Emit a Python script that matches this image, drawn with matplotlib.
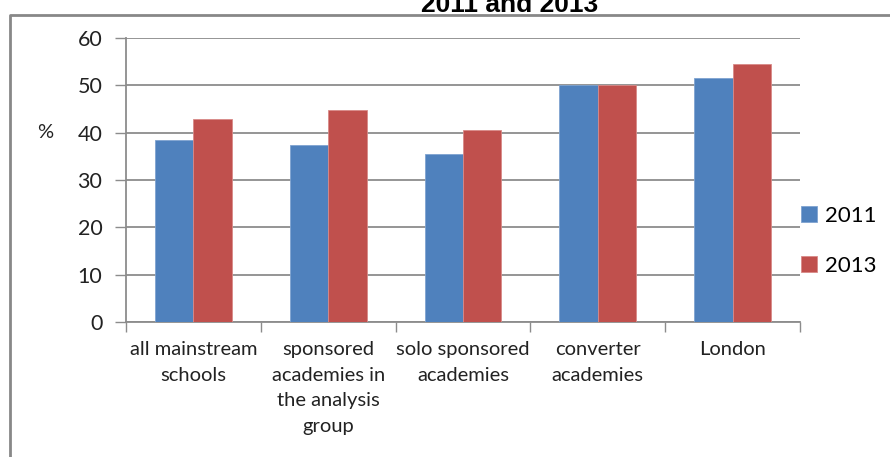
import numpy as np
import matplotlib
matplotlib.use('Agg')
import matplotlib.pyplot as plt
from matplotlib.lines import Line2D

plt.rcParams['font.family'] = ['Lato', 'DejaVu Sans']

categories = ['all mainstream\nschools', 'sponsored\nacademies in\nthe analysis\ngroup',
              'solo sponsored\nacademies', 'converter\nacademies', 'London']
years = ['2011', '2013']
vals_2011 = [38.5, 37.4, 35.5, 50.0, 51.5]
vals_2013 = [42.8, 44.7, 40.5, 50.0, 54.5]
yticks = [0, 10, 20, 30, 40, 50, 60]

blue = '#4F81BD'
red = '#C0504D'
grid_c = '#8C8C8C'

fig = plt.figure(figsize=(8.9, 4.57), dpi=100)
ax = fig.add_axes([0.1416, 0.2954, 0.7573, 0.6214])

x = np.arange(len(categories))
w = 0.285
ax.bar(x - w / 2, vals_2011, w, color=blue, edgecolor='#7FA3D0', linewidth=0.6, label=years[0], zorder=3)
ax.bar(x + w / 2, vals_2013, w, color=red, edgecolor='#D88A88', linewidth=0.6, label=years[1], zorder=3)

ax.set_xlim(-0.5, len(categories) - 0.5)
ax.set_ylim(0, 60)
ax.set_yticks(yticks)
ax.set_yticklabels([str(t) for t in yticks], fontsize=15.5, color='#222222')
ax.yaxis.grid(True, color=grid_c, linewidth=1.3, zorder=0)
ax.tick_params(axis='y', length=8, width=1, color=grid_c, pad=9)

# category labels between boundary ticks
ax.set_xticks(x)
ax.set_xticklabels(categories, fontsize=14.5, color='#222222', linespacing=1.6, va='top')
ax.tick_params(axis='x', length=0, pad=14)
ax.set_xticks(np.arange(-0.5, len(categories), 1.0), minor=True)
ax.tick_params(axis='x', which='minor', length=7, width=1, color=grid_c)

for s in ['top', 'right']:
    ax.spines[s].set_visible(False)
for s in ['left', 'bottom']:
    ax.spines[s].set_color(grid_c)
    ax.spines[s].set_linewidth(1.3)

ax.text(-0.132, 40, '%', transform=ax.get_yaxis_transform(), fontsize=14.5,
        color='#222222', ha='left', va='center')

leg = fig.legend(loc='center left', bbox_to_anchor=(0.888, 0.473), frameon=False,
                 fontsize=16, handlelength=0.7, handleheight=0.7,
                 handletextpad=0.35, labelspacing=1.35, borderpad=0)

fig.text(510 / 890, 1 - 12 / 457, '2011 and 2013', ha='center', va='baseline', fontsize=19,
         fontweight='bold', family=['Liberation Sans', 'DejaVu Sans'])

# outer chart frame
fig.add_artist(Line2D([10 / 890, 10 / 890, 1.0], [0.0, 1 - 15 / 457, 1 - 15 / 457],
                      transform=fig.transFigure, color='#888888', linewidth=2))

fig.savefig('out.png', dpi=100)
